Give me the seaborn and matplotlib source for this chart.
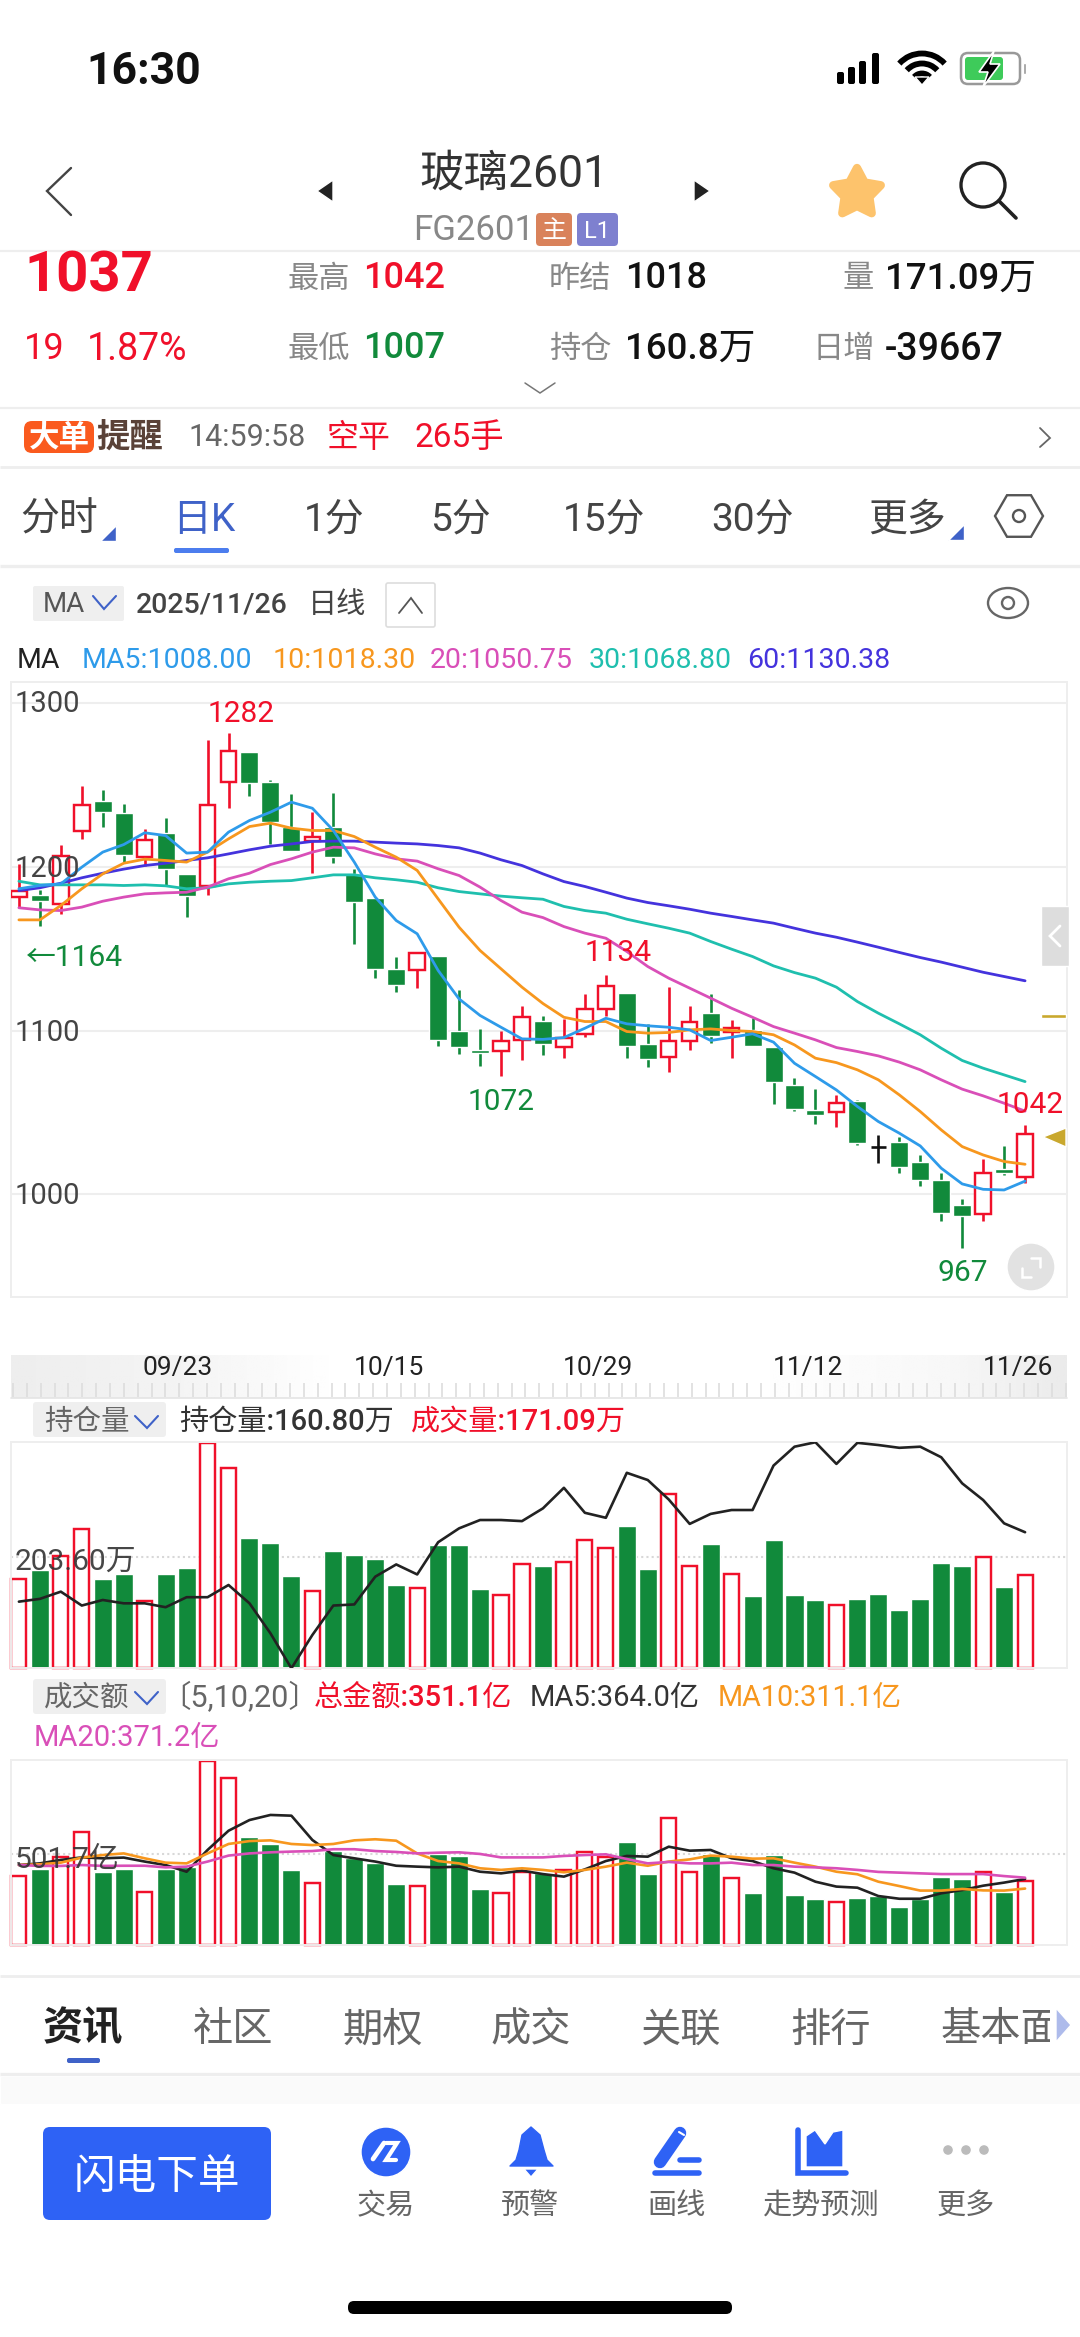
import numpy as np
import pandas as pd
import matplotlib
matplotlib.use("Agg")
import matplotlib.pyplot as plt
import seaborn as sns
from matplotlib.patches import Circle, FancyBboxPatch, Polygon, Rectangle, Arc

W, H = 1080, 2337
FONTS = ["Roboto", "Noto Sans CJK SC", "DejaVu Sans"]

# daily candles
opens = [1181.5, 1182.9, 1177.4, 1221.6, 1240.5, 1232.8, 1206.3, 1220.6, 1195.7, 1188.0,
         1251.7, 1269.9, 1251.7, 1224.6, 1216.0, 1224.6, 1195.7, 1180.9, 1137.7, 1136.7,
         1145.8, 1099.6, 1088.2, 1087.8, 1094.3, 1106.1, 1089.8, 1098.0, 1113.2, 1122.8,
         1091.9, 1084.1, 1093.9, 1111.0, 1098.8, 1100.4, 1090.2, 1067.0, 1051.5, 1050.3,
         1057.0, 1028.7, 1031.8, 1019.8, 1008.8, 993.5, 987.8, 1015.3, 1010.8]
closes = [1185.5, 1179.4, 1206.9, 1237.5, 1233.4, 1207.5, 1216.1, 1198.6, 1182.3, 1237.5,
          1270.5, 1251.3, 1227.3, 1209.4, 1218.5, 1206.3, 1178.4, 1137.3, 1128.1, 1147.3,
          1094.3, 1090.2, 1086.2, 1093.5, 1108.2, 1091.6, 1095.3, 1113.2, 1127.3, 1090.6,
          1082.5, 1093.7, 1105.5, 1096.7, 1101.4, 1090.6, 1068.6, 1052.3, 1048.7, 1056.0,
          1031.2, 1028.7, 1016.5, 1008.4, 988.4, 986.4, 1013.2, 1012.8, 1037.0]
highs = [1201.8, 1186.0, 1213.6, 1249.3, 1247.0, 1238.1, 1223.0, 1229.9, 1195.7, 1277.2,
         1282.0, 1269.9, 1253.2, 1244.2, 1233.2, 1245.0, 1198.8, 1180.9, 1144.8, 1147.7,
         1145.8, 1124.8, 1101.0, 1100.0, 1114.9, 1108.6, 1106.9, 1122.4, 1134.0, 1122.8,
         1104.1, 1126.3, 1115.1, 1122.2, 1106.5, 1107.5, 1090.2, 1071.1, 1064.2, 1060.9,
         1057.6, 1036.3, 1034.8, 1024.0, 1012.8, 997.0, 1021.4, 1029.5, 1042.0]
lows = [1175.4, 1164.0, 1170.9, 1216.9, 1224.2, 1202.2, 1200.8, 1189.0, 1169.2, 1183.1,
        1236.0, 1243.0, 1214.0, 1209.4, 1196.1, 1202.2, 1153.0, 1131.8, 1123.8, 1126.0,
        1090.8, 1085.7, 1078.6, 1072.0, 1081.7, 1085.1, 1083.1, 1095.9, 1109.0, 1083.1,
        1078.0, 1074.9, 1088.2, 1092.3, 1083.1, 1090.6, 1055.2, 1051.1, 1043.0, 1041.3,
        1030.1, 1018.9, 1013.2, 1005.3, 983.9, 967.0, 983.9, 1011.8, 1007.0]

ma5 = [1186.6, 1188.6, 1189.6, 1199.8, 1209.0, 1213.6, 1220.8, 1219.1, 1208.4, 1209.0,
       1221.2, 1228.3, 1233.4, 1239.5, 1235.8, 1222.2, 1202.9, 1181.5, 1167.2, 1159.1,
       1136.7, 1119.3, 1109.2, 1102.0, 1094.9, 1094.6, 1095.7, 1101.4, 1107.5, 1104.1,
       1102.9, 1102.0, 1100.4, 1093.9, 1095.9, 1098.0, 1092.9, 1080.0, 1071.9, 1063.7,
       1053.6, 1044.4, 1037.3, 1029.5, 1015.9, 1006.3, 1003.0, 1002.6, 1008.0]
ma10 = [1167.6, 1167.6, 1176.4, 1186.6, 1195.7, 1202.2, 1204.7, 1203.9, 1202.9, 1209.0,
        1217.1, 1224.6, 1226.7, 1223.6, 1222.2, 1222.2, 1218.5, 1212.0, 1205.9, 1197.8,
        1180.4, 1163.1, 1148.9, 1137.7, 1126.5, 1116.5, 1108.1, 1105.5, 1105.5, 1099.4,
        1098.4, 1098.8, 1100.4, 1101.0, 1100.0, 1099.4, 1097.4, 1091.2, 1083.1, 1080.4,
        1076.0, 1069.9, 1060.7, 1050.5, 1039.3, 1029.1, 1024.0, 1020.0, 1018.3]
ma20 = [1175.0, 1173.7, 1173.3, 1175.4, 1179.0, 1181.5, 1183.5, 1184.1, 1184.5, 1187.6,
        1192.7, 1196.1, 1201.4, 1204.9, 1209.0, 1212.0, 1211.6, 1207.9, 1204.9, 1203.5,
        1198.8, 1194.7, 1187.6, 1179.4, 1172.3, 1169.0, 1163.5, 1159.5, 1156.4, 1148.3,
        1139.1, 1132.0, 1125.9, 1119.8, 1113.6, 1108.1, 1102.4, 1098.4, 1094.3, 1089.6,
        1087.2, 1084.5, 1080.7, 1076.0, 1069.9, 1064.2, 1060.1, 1055.6, 1050.75]
ma30 = [1191.2, 1189.0, 1189.0, 1189.0, 1189.0, 1188.6, 1189.0, 1188.4, 1186.6, 1187.2,
        1189.6, 1190.6, 1191.2, 1191.6, 1193.3, 1195.1, 1195.1, 1193.3, 1192.1, 1190.6,
        1187.2, 1184.9, 1183.5, 1182.1, 1181.1, 1180.2, 1175.8, 1173.3, 1171.7, 1168.0,
        1165.2, 1162.5, 1159.5, 1154.4, 1149.7, 1145.2, 1139.5, 1135.4, 1132.0, 1126.5,
        1117.7, 1110.6, 1104.1, 1097.4, 1089.2, 1081.7, 1077.0, 1072.9, 1068.8]
ma60 = [1185.5, 1187.2, 1190.0, 1193.3, 1196.1, 1198.6, 1200.8, 1202.2, 1203.9, 1205.5,
        1207.9, 1210.4, 1212.6, 1214.0, 1215.5, 1215.7, 1215.7, 1215.1, 1214.5, 1214.0,
        1213.0, 1211.6, 1208.4, 1204.3, 1200.8, 1195.7, 1191.0, 1188.0, 1184.5, 1180.9,
        1178.2, 1176.2, 1174.1, 1171.7, 1169.7, 1167.6, 1165.6, 1162.5, 1159.5, 1157.0,
        1154.0, 1150.9, 1147.7, 1144.6, 1141.8, 1138.7, 1135.6, 1133.0, 1130.38]

# volume and open interest, in 万
volume = [164.0, 180.5, 206.2, 255.8, 164.6, 173.2, 124.2, 173.2, 184.8, 414.3,
          368.4, 238.7, 229.5, 170.1, 142.6, 214.8, 208.1, 200.7, 152.4, 147.5,
          226.4, 225.8, 145.0, 135.3, 190.9, 187.9, 194.6, 235.0, 220.9, 260.7,
          182.4, 320.7, 187.3, 228.9, 172.6, 132.8, 235.0, 134.6, 124.8, 116.3,
          127.9, 136.5, 107.1, 127.9, 192.8, 188.5, 204.4, 148.7, 171.09]
open_interest = [148.3, 148.8, 150.1, 147.6, 148.6, 148.0, 148.0, 147.3, 149.1, 149.1,
                 151.3, 148.0, 142.6, 136.3, 142.3, 147.6, 147.8, 152.8, 155.0, 153.2,
                 159.0, 161.5, 163.0, 163.0, 162.8, 165.1, 168.8, 164.3, 163.4, 171.5,
                 170.2, 166.7, 162.3, 164.1, 164.8, 164.8, 172.8, 176.2, 177.0, 173.1,
                 176.9, 176.5, 176.0, 176.2, 174.3, 169.6, 166.6, 162.4, 160.8]

# turnover, in 亿
amount = [380, 417, 483, 625, 401, 417, 294, 417, 432, 1015,
          919, 594, 557, 414, 340, 518, 482, 454, 336, 325,
          500, 493, 307, 289, 404, 395, 414, 511, 483, 566,
          390, 698, 404, 500, 368, 285, 496, 276, 254, 235,
          257, 270, 211, 252, 373, 362, 401, 294, 351.1]
amt_ma5 = [441, 450, 469, 483, 478, 482, 460, 441, 404, 524,
           630, 689, 717, 713, 579, 496, 478, 460, 437, 432,
           428, 432, 404, 395, 410, 391, 377, 417, 463, 491,
           487, 542, 520, 524, 478, 463, 423, 399, 349, 322,
           316, 270, 255, 255, 285, 303, 327, 344, 364.0]
amt_ma10 = [441, 445, 454, 482, 496, 505, 478, 454, 450, 505,
            557, 573, 577, 557, 551, 557, 577, 583, 575, 505,
            463, 450, 423, 414, 423, 414, 401, 414, 432, 454,
            437, 460, 472, 493, 487, 476, 478, 454, 432, 404,
            390, 349, 325, 300, 300, 309, 301, 300, 311.1]
amt_ma20 = [441, 436, 436, 441, 436, 437, 437, 428, 432, 460,
            493, 505, 511, 515, 518, 528, 528, 518, 513, 505,
            509, 511, 502, 483, 483, 483, 491, 496, 500, 474,
            450, 458, 450, 450, 454, 441, 441, 432, 428, 423,
            414, 403, 399, 395, 391, 391, 391, 380, 371.2]

price_ticks = [1000, 1100, 1200, 1300]
date_labels = ["09/23", "10/15", "10/29", "11/12", "11/26"]
period_tabs = ["1分", "5分", "15分", "30分"]
news_tabs = ["社区", "期权", "成交", "关联", "排行"]

RED = "#F0102A"
GREEN = "#118A3B"
BLUE = "#2E62F5"
GRID = "#EEEEEE"
C5, C10, C20, C30, C60 = "#2E9BEA", "#F7971E", "#D94FB8", "#1FBFAE", "#4433DD"

sns.set_theme(style="white")
plt.rcParams["font.family"] = FONTS

df = pd.DataFrame({"i": np.arange(len(closes)), "open": opens, "close": closes, "high": highs,
                   "low": lows, "ma5": ma5, "ma10": ma10, "ma20": ma20, "ma30": ma30, "ma60": ma60,
                   "volume": volume, "oi": open_interest, "amount": amount,
                   "a5": amt_ma5, "a10": amt_ma10, "a20": amt_ma20})
df["dir"] = np.where(df["close"] > df["open"], "up", "down")

fig = plt.figure(figsize=(W / 100, H / 100), dpi=100, facecolor="white")


def panel(top, bottom, left=11.4, right=1067):
    ax = fig.add_axes([left / W, 1 - bottom / H, (right - left) / W, (bottom - top) / H])
    ax.set_xlim(-0.358, 50.0)
    ax.set_xticks([])
    ax.set_yticks([])
    ax.set_xlabel("")
    ax.set_ylabel("")
    for s in ax.spines.values():
        s.set_color(GRID)
        s.set_linewidth(1.4)
    return ax


def draw_bars(ax, col, ymax):
    sns.barplot(data=df, x="i", y=col, hue="dir", hue_order=["up", "down"],
                palette={"up": RED, "down": GREEN}, dodge=False, native_scale=True,
                width=0.86, saturation=1, legend=False, errorbar=None, ax=ax)
    for p in ax.containers[0]:
        p.set_x(p.get_x() + 0.07)
        p.set_width(p.get_width() - 0.14)
        p.set_facecolor("white")
        p.set_edgecolor(RED)
        p.set_linewidth(1.75)
        p.set_clip_on(False)
    ax.set_xlim(-0.358, 50.0)
    ax.set_ylim(0, ymax)
    ax.set_xlabel("")
    ax.set_ylabel("")
    ax.set_xticks([])
    ax.set_yticks([])


# candle panel
ax_k = panel(681.7, 1296.7)
ax_k.set_ylim(937.4, 1313.1)
for t in price_ticks:
    ax_k.axhline(t, color=GRID, lw=1.5, zorder=1)
for d, col in [("up", RED), ("down", GREEN)]:
    s = df[(df["dir"] == d) & (df["open"] != df["close"])]
    ax_k.vlines(s["i"], s["low"], s["high"], color=col, lw=1.9, zorder=2)
    if d == "up":
        ax_k.bar(s["i"], s["close"] - s["open"], bottom=s["open"], width=0.74,
                 facecolor="white", edgecolor=col, linewidth=1.75, zorder=3)
    else:
        ax_k.bar(s["i"], s["open"] - s["close"], bottom=s["close"], width=0.86, color=col, zorder=3)
doji = df[df["open"] == df["close"]]
ax_k.vlines(doji["i"], doji["low"], doji["high"], color="#111111", lw=1.9, zorder=2)
ax_k.hlines(doji["close"], doji["i"] - 0.36, doji["i"] + 0.36, color="#111111", lw=1.9, zorder=3)
for col, c in [("ma60", C60), ("ma30", C30), ("ma20", C20), ("ma10", C10), ("ma5", C5)]:
    sns.lineplot(data=df, x="i", y=col, color=c, linewidth=2.0, errorbar=None, ax=ax_k, zorder=4)
ax_k.set_xlabel("")
ax_k.set_ylabel("")
ax_k.set_xticks([])
ax_k.set_yticks([])

# open interest / volume panel
ax_v = panel(1441.7, 1668.3)
draw_bars(ax_v, "volume", 416)
ax_v.axhline(203.6, color="#D8D8D8", ls=(0, (1, 1.5)), lw=1.5, zorder=0)
ax_oi = ax_v.twinx()
sns.lineplot(data=df, x="i", y="oi", color="#222222", linewidth=1.9, errorbar=None, ax=ax_oi)
ax_oi.set_ylim(136.3, 177.1)
ax_oi.set_xlim(-0.358, 50.0)
ax_oi.set_xlabel("")
ax_oi.set_ylabel("")
ax_oi.set_yticks([])
ax_oi.set_xticks([])
for s in ax_oi.spines.values():
    s.set_visible(False)

# turnover panel
ax_a = panel(1760, 1945)
draw_bars(ax_a, "amount", 1020)
ax_a.axhline(501.7, color="#D8D8D8", ls=(0, (1, 1.5)), lw=1.5, zorder=0)
for col, c in [("a5", "#222222"), ("a10", C10), ("a20", C20)]:
    sns.lineplot(data=df, x="i", y=col, color=c, linewidth=1.9, errorbar=None, ax=ax_a)
ax_a.set_xlim(-0.358, 50.0)
ax_a.set_xlabel("")
ax_a.set_ylabel("")
ax_a.set_xticks([])
ax_a.set_yticks([])

# everything around the charts, in screen pixels
ui = fig.add_axes([0, 0, 1, 1], zorder=10)
ui.patch.set_alpha(0)
ui.axis("off")


def T(x, y, s, size, color="#333333", ha="left", weight="normal", alpha=1.0):
    ui.text(x, y, s, fontsize=size, color=color, ha=ha, va="center", fontweight=weight,
            family=FONTS, alpha=alpha)


def box(x0, y0, x1, y1, color, r=3, ec="none", lw=0):
    ui.add_patch(FancyBboxPatch((x0 + r, y0 + r), x1 - x0 - 2 * r, y1 - y0 - 2 * r,
                                boxstyle=f"round,pad={r}", fc=color, ec=ec, lw=lw))


def hline(y, lw=1.5, color=GRID):
    ui.plot([0, W], [y, y], color=color, lw=lw, solid_capstyle="butt")


def stroke(xs, ys, color="#333333", lw=1.5):
    ui.plot(xs, ys, color=color, lw=lw, solid_capstyle="round", solid_joinstyle="miter")


# strip with the dates
grad = np.interp(np.linspace(11, 1067, 400), [11, 200, 340, 745, 950, 1067],
                 [0.93, 0.96, 1, 1, 0.97, 0.92]).reshape(1, -1)
ui.imshow(grad, extent=(11, 1067, 1398, 1355), aspect="auto", cmap="gray", vmin=0, vmax=1, zorder=0)
ui.set_xlim(0, W)
ui.set_ylim(H, 0)
ui.vlines(np.arange(13, 1067, 13.85), 1383, 1397, color="#DDDDDD", lw=1.2)
ui.plot([11, 1067], [1398, 1398], color="#E4E4E4", lw=1.2)
for lab, x in zip(date_labels, [178, 389, 598, 808, 1018]):
    T(x, 1368, lab, 19, "#222222", ha="center")

# status bar
T(86, 72, "16:30", 32, "#111111", weight="bold")
for x, h in zip([840, 851, 862, 875], [12, 17, 23, 31]):
    box(x - 3, 84 - h, x + 4, 84, "black", r=2)
for r in [12, 22, 32]:
    ui.add_patch(Arc((922, 84), r * 2 - 3, r * 2 - 3, theta1=222, theta2=318, color="black", lw=4.2))
ui.add_patch(Polygon([[915, 77], [929, 77], [922, 85]], fc="black"))
box(961, 53, 1020, 84, "white", r=7, ec="#999999", lw=1.8)
box(965, 57, 1003, 80, "#3ECB5A", r=3)
ui.add_patch(Rectangle((1023, 63), 3, 11, fc="#999999"))
ui.add_patch(Polygon([[994, 51], [979, 72], [988, 72], [983, 87], [1000, 64], [990, 64]],
                     fc="black", ec="white", lw=1.2))

# title row
stroke([71, 47, 71], [168, 191, 215], "#444444", 1.7)
ui.add_patch(Polygon([[333, 180], [333, 202], [317, 191]], fc="#222222"))
ui.add_patch(Polygon([[694, 180], [694, 202], [710, 191]], fc="#222222"))
T(514, 174, "玻璃2601", 32, "#333333", ha="center")
T(413, 231, "FG2601", 25, "#888888")
box(536, 213, 572, 246, "#D9825B", r=4)
T(554, 231, "主", 18, "white", ha="center")
box(577, 213, 618, 246, "#7E80CF", r=4)
T(597, 231, "L1", 17, "white", ha="center")
ang = np.deg2rad(np.arange(90, 450, 36))
rad = np.array([25, 13] * 5)
ui.add_patch(Polygon(np.c_[857 + rad * np.cos(ang), 193 - rad * np.sin(ang)], fc="#FDC36C",
                     ec="#FDC36C", lw=6, joinstyle="round"))
ui.add_patch(Circle((983, 185), 22, fc="none", ec="#222222", lw=2.4))
stroke([999, 1016], [201, 218], "#222222", 2.6)
hline(251, 1.6)

# quote block
T(24, 277, "1037", 40.5, RED, weight="bold")
T(24, 349, "19", 26, RED)
T(87, 349, "1.87%", 27, RED)
for x, y, s in [(288, 279, "最高"), (288, 349, "最低"), (549, 279, "昨结"), (549, 349, "持仓"),
                (843, 279, "量"), (813, 349, "日增")]:
    T(x, y, s, 22.5, "#888888")
T(363, 279, "1042", 26, RED, weight="medium")
T(363, 349, "1007", 26, GREEN, weight="medium")
T(625, 279, "1018", 26, "#111111", weight="medium")
T(625, 349, "160.8万", 26.5, "#111111", weight="medium")
T(885, 279, "171.09万", 26.5, "#111111", weight="medium")
T(885, 349, "-39667", 27, "#111111", weight="medium")
stroke([525, 540, 555], [383, 393, 383], "#777777", 1.1)
hline(408, 1.6)

# big order row
box(24, 421, 94, 453, "#FA5A1E", r=8)
T(59, 438, "大单", 22, "white", ha="center", weight="bold")
T(96, 438, "提醒", 24, "#5A4238", weight="bold")
T(188, 438, "14:59:58", 22, "#666666")
T(327, 438, "空平", 23, RED)
T(415, 438, "265手", 24, RED)
stroke([1040, 1050, 1040], [428, 438, 447], "#666666", 1.3)
hline(467, 2)

# period tabs
T(20, 520, "分时", 28, "#444444")
ui.add_patch(Polygon([[116, 525], [116, 541], [100, 541]], fc="#3F62C8"))
T(172, 520, "日K", 28, "#3F62C8")
box(174, 548, 229, 553, "#4C7DEE", r=2)
for s, x in zip(period_tabs, [304, 430, 563, 711]):
    T(x, 520, s, 28, "#444444")
T(868, 520, "更多", 28, "#444444")
ui.add_patch(Polygon([[964, 524], [964, 540], [948, 540]], fc="#3F62C8"))
hex_ang = np.deg2rad(np.arange(0, 360, 60))
ui.add_patch(Polygon(np.c_[1019 + 24 * np.cos(hex_ang), 516 + 24 * np.sin(hex_ang)], fc="none",
                     ec="#555555", lw=1.7))
ui.add_patch(Circle((1019, 516), 6, fc="none", ec="#555555", lw=1.7))
hline(566, 2.4)

# chart header
box(33, 586, 124, 621, "#EFEFEF", r=2)
T(43, 605, "MA", 20, "#555555")
stroke([93, 104, 116], [596, 609, 596], "#3F62C8", 1.5)
T(136, 605, "2025/11/26", 20.5, "#444444", weight="medium")
T(308, 605, "日线", 21, "#444444", weight="medium")
box(386, 583, 435, 627, "white", r=2, ec="#DDDDDD", lw=1.2)
stroke([399, 411, 422], [613, 598, 613], "#555555", 1.3)
ui.add_patch(Arc((1008, 603), 40, 30, theta1=0, theta2=360, color="#666666", lw=1.7))
ui.add_patch(Circle((1008, 603), 6, fc="none", ec="#666666", lw=1.7))
T(17, 661, "MA", 20.5, "#222222")
for x, s, c in [(82, "MA5:1008.00", C5), (273, "10:1018.30", C10), (430, "20:1050.75", C20),
                (589, "30:1068.80", C30), (747, "60:1130.38", C60)]:
    T(x, 661, s, 20.5, c)

# price labels
for t, y in zip(price_ticks, [1194, 1031, 867, 702]):
    T(15, y + 2, str(t), 21, "#444444")
T(241, 714, "1282", 21.5, RED, ha="center")
T(26, 958, "←1164", 21.5, GREEN)
T(501, 1102, "1072", 21.5, GREEN, ha="center")
T(618, 953, "1134", 21.5, RED, ha="center")
T(1030, 1105, "1042", 21.5, RED, ha="center")
T(963, 1273, "967", 21.5, GREEN, ha="center")

# things at the right edge of the candle panel
ui.add_patch(Rectangle((1041, 906), 28, 60, fc="#DDDDDD"))
stroke([1060, 1050, 1060], [926, 936, 946], "white", 2)
ui.add_patch(Rectangle((1041, 1014), 25, 3.5, fc="#C9A82E"))
ui.add_patch(Polygon([[1066, 1128], [1066, 1147], [1043, 1137]], fc="#C9A82E"))
ui.add_patch(Circle((1031, 1267), 24, fc="#E2E2E2"))
stroke([1022, 1022, 1031], [1268, 1277, 1277], "white", 1.8)
stroke([1031, 1040, 1040], [1258, 1258, 1267], "white", 1.8)

# volume header
box(33, 1402, 166, 1437, "#EFEFEF", r=3)
T(44, 1422, "持仓量", 20.5, "#666666")
stroke([135, 147, 158], [1416, 1428, 1416], "#3F62C8", 1.5)
T(179, 1422, "持仓量:160.80万", 21, "#333333", weight="medium")
T(411, 1422, "成交量:171.09万", 21, RED, weight="medium")
T(15, 1562, "203.60万", 21.5, "#333333", alpha=0.9)

# turnover header
box(33, 1679, 166, 1714, "#EFEFEF", r=3)
T(44, 1698, "成交额", 20.5, "#666666")
stroke([135, 147, 158], [1692, 1704, 1692], "#3F62C8", 1.5)
T(160, 1698, "〔5,10,20〕", 22, "#666666")
T(314, 1698, "总金额:351.1亿", 21, RED, weight="medium")
T(530, 1698, "MA5:364.0亿", 21, "#333333")
T(718, 1698, "MA10:311.1亿", 20.7, C10)
T(34, 1738, "MA20:371.2亿", 21, C20)
T(15, 1860, "501.7亿", 21.5, "#333333", alpha=0.9)

# news tabs
hline(1976, 2)
T(43, 2030, "资讯", 29, "#222222", weight="bold")
box(67, 2058, 100, 2063, "#3F62C8", r=2)
for s, x in zip(news_tabs, [193, 342, 491, 640, 790]):
    T(x, 2030, s, 29, "#666666")
clip_txt = ui.text(941, 2030, "基本面", fontsize=29, color="#666666", va="center", family=FONTS)
clip_txt.set_clip_path(Rectangle((941, 1990), 109, 70, transform=ui.transData))
clip_txt.set_clip_on(True)
ui.add_patch(Polygon([[1056, 2008], [1056, 2042], [1071, 2025]], fc="#AEBBEB"))
hline(2074, 2.4)
ui.add_patch(Rectangle((0, 2076), W, 28, fc="#FAFAFA"))

# bottom bar
box(43, 2127, 271, 2220, BLUE, r=7)
T(157, 2177, "闪电下单", 30, "white", ha="center")
for s, x in zip(["交易", "预警", "画线", "走势预测", "更多"], [386, 530, 676, 821, 966]):
    T(x, 2206, s, 21, "#666666", ha="center")
ui.add_patch(Circle((386, 2152), 25, fc=BLUE))
stroke([373, 384], [2159, 2143], "white", 3.4)
stroke([386, 397, 386, 396], [2143, 2143, 2160, 2160], "white", 3.0)
ui.add_patch(Polygon([[531, 2127], [540, 2135], [544, 2150], [547, 2160], [553, 2166], [510, 2166],
                      [516, 2160], [519, 2150], [522, 2135]], fc=BLUE, ec=BLUE, lw=1, joinstyle="round"))
ui.add_patch(Polygon([[524, 2169], [538, 2169], [531, 2177]], fc=BLUE))
stroke([680, 660], [2133, 2162], BLUE, 9)
stroke([679, 684], [2132, 2135], "white", 1.5)
stroke([680, 699], [2160, 2160], BLUE, 4)
stroke([655, 699], [2173, 2173], BLUE, 4)
ui.add_patch(Polygon([[806, 2136], [815, 2130], [825, 2144], [833, 2132], [843, 2130], [843, 2167], [806, 2167]], fc=BLUE))
stroke([798, 798, 846], [2130, 2173, 2173], BLUE, 4)
for dx in [-18, 0, 18]:
    ui.add_patch(Circle((966 + dx, 2150), 5.5, fc="#BBBBBB"))
box(348, 2301, 732, 2314, "black", r=6)

fig.savefig("out.png", dpi=100, facecolor="white")
